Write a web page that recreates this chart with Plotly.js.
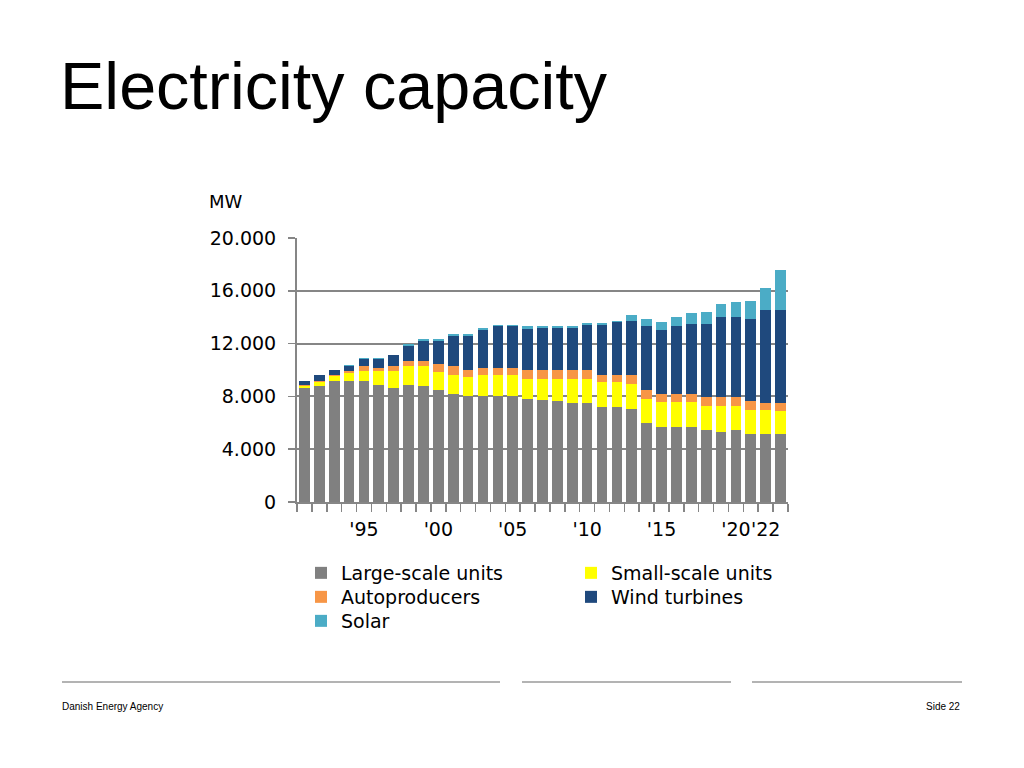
<!DOCTYPE html>
<html>
<head>
<meta charset="utf-8">
<script src="https://cdn.plot.ly/plotly-3.0.1.min.js"></script>
<style>
  html, body { margin: 0; padding: 0; background: #ffffff; }
  #chart { width: 1024px; height: 768px; }
</style>
</head>
<body>
<div id="chart"></div>
<script>
// ---- Data (MW) ----
const years = [1990,1991,1992,1993,1994,1995,1996,1997,1998,1999,2000,2001,2002,2003,2004,2005,2006,2007,2008,2009,2010,2011,2012,2013,2014,2015,2016,2017,2018,2019,2020,2021,2022];
const largeScale = [8660,8760,9190,9190,9190,8890,8610,8890,8760,8460,8200,8050,8050,8050,8050,7800,7750,7620,7500,7500,7200,7200,7050,5980,5700,5700,5700,5420,5300,5420,5160,5160,5160];
const smallScale = [100,350,320,550,710,1010,1290,1440,1510,1410,1390,1420,1540,1540,1540,1540,1590,1720,1840,1840,1860,1860,1890,1850,1850,1850,1850,1850,1970,1850,1830,1830,1700];
const autoproducers = [70,80,110,160,410,260,410,350,430,580,680,550,560,560,560,680,680,680,680,680,530,530,650,680,650,650,650,710,710,710,650,510,640];
const windTurbines = [360,400,400,440,560,710,800,1110,1500,1750,2330,2580,2850,3150,3150,3110,3160,3160,3160,3410,3840,4020,4090,4790,4820,5100,5260,5480,6010,6010,6220,7070,7070];
const solar = [0,0,0,40,60,60,60,180,150,150,150,150,150,130,130,170,120,120,120,130,130,120,460,560,590,710,830,960,1010,1130,1390,1640,3030];

// Axis labels as shown in the picture
const tickYears = [1994,1999,2004,2009,2014,2019,2021];
const tickLabels = ["'95","'00","'05","'10","'15","'20","'22"];
const seriesNames = ["Large-scale units","Small-scale units","Autoproducers","Wind turbines","Solar"];

// ---- Layout geometry ----
const FIG_W = 1024, FIG_H = 768;
const L = 297, T = 238, W = 491, H = 264;
const px2x = p => (p - L) / W;
const px2y = p => (T + H - p) / H;

const axisGrey = '#868686';
const chartFont = 'DejaVu Sans, Verdana, sans-serif';
const slideFont = 'Liberation Sans, Arial, Helvetica, sans-serif';

function bar(name, values, color, legendId) {
  return {
    type: 'bar', name: name, x: years, y: values,
    marker: { color: color, line: { width: 0 } },
    legend: legendId, hoverinfo: 'skip'
  };
}

const traces = [
  bar(seriesNames[0], largeScale, '#808080', 'legend'),
  bar(seriesNames[1], smallScale, '#FFFF00', 'legend2'),
  bar(seriesNames[2], autoproducers, '#F79646', 'legend3'),
  bar(seriesNames[3], windTurbines, '#1F497D', 'legend4'),
  bar(seriesNames[4], solar, '#4BACC6', 'legend5')
];

// legend entries: text left edge and row centre in pixels
function legendAt(textLeftPx, rowCenterPx) {
  return {
    orientation: 'v', xanchor: 'left', yanchor: 'top',
    traceorder: 'normal', bgcolor: 'rgba(0,0,0,0)',
    font: { family: chartFont, size: 19, color: '#000000' },
    x: px2x(textLeftPx - 40), y: px2y(rowCenterPx - 19)
  };
}

const layout = {
  width: FIG_W, height: FIG_H,
  paper_bgcolor: '#ffffff', plot_bgcolor: '#ffffff',
  margin: { l: L, r: FIG_W - L - W, t: T, b: FIG_H - T - H, autoexpand: false },
  barmode: 'stack', bargap: 0.28,
  separators: ',.',
  showlegend: true,
  title: {
    text: 'Electricity capacity',
    font: { family: slideFont, size: 66.5, color: '#000000' },
    xref: 'container', yref: 'container',
    x: 60 / FIG_W, xanchor: 'left',
    y: 1 - 86 / FIG_H, yanchor: 'middle'
  },
  xaxis: {
    type: 'linear', range: [years[0] - 0.5, years[years.length - 1] + 0.5],
    tickmode: 'array', tickvals: tickYears, ticktext: tickLabels,
    tickangle: 0,
    ticks: 'outside', ticklen: 9, tickcolor: 'rgba(0,0,0,0)',
    tickfont: { family: chartFont, size: 19, color: '#000000' },
    showline: true, linecolor: axisGrey, linewidth: 2,
    showgrid: false, zeroline: false, fixedrange: true,
    minor: { tickmode: 'linear', tick0: years[0] - 0.5, dtick: 1, ticks: 'outside', ticklen: 8, tickwidth: 1.5, tickcolor: axisGrey, showgrid: false }
  },
  yaxis: {
    range: [0, 20000], tickmode: 'linear', tick0: 0, dtick: 4000,
    tickformat: ',d',
    ticks: 'outside', ticklen: 7, tickwidth: 1.5, tickcolor: axisGrey,
    ticklabelstandoff: 8,
    tickfont: { family: chartFont, size: 19, color: '#000000' },
    showline: true, linecolor: axisGrey, linewidth: 2,
    showgrid: true, gridcolor: axisGrey, gridwidth: 2,
    zeroline: false, fixedrange: true
  },
  legend: legendAt(341, 573),
  legend2: legendAt(611, 573),
  legend3: legendAt(341, 597),
  legend4: legendAt(611, 597),
  legend5: legendAt(341, 621),
  annotations: [
    { text: 'MW', xref: 'paper', yref: 'paper', x: px2x(207), y: px2y(201),
      xanchor: 'left', yanchor: 'middle', showarrow: false,
      font: { family: chartFont, size: 18, color: '#000000' } },
    { text: 'Danish Energy Agency', xref: 'paper', yref: 'paper', x: px2x(60), y: px2y(706),
      xanchor: 'left', yanchor: 'middle', showarrow: false,
      font: { family: slideFont, size: 10, color: '#000000' } },
    { text: 'Side 22', xref: 'paper', yref: 'paper', x: px2x(962), y: px2y(706),
      xanchor: 'right', yanchor: 'middle', showarrow: false,
      font: { family: slideFont, size: 10, color: '#000000' } }
  ],
  shapes: [
    [62, 500], [522, 731], [752, 962]
  ].map(seg => ({
    type: 'line', xref: 'paper', yref: 'paper',
    x0: px2x(seg[0]), x1: px2x(seg[1]), y0: px2y(682), y1: px2y(682),
    line: { color: '#9a9a9a', width: 1.5 }
  }))
};

Plotly.newPlot('chart', traces, layout, { displayModeBar: false, staticPlot: true });
</script>
</body>
</html>
